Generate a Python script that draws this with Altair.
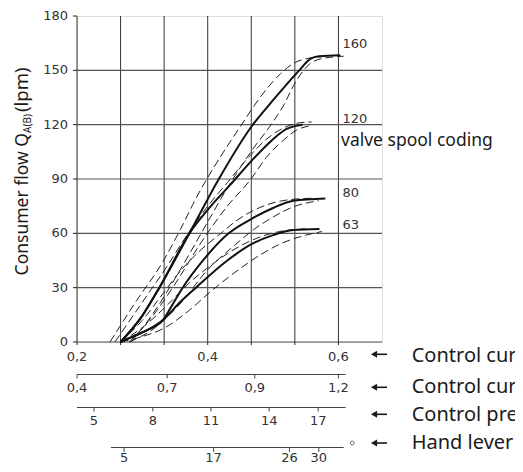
import altair as alt
import pandas as pd

# ---------------- data ----------------
SPOOL_CODES = ["160", "120", "80", "63"]
LABEL_LEVELS = [164.8, 123.3, 82.0, 64.6]

# solid characteristic curves: control current (A) vs consumer flow (lpm)
V_160 = [0.2667, 0.299, 0.326, 0.372, 0.417, 0.467, 0.500, 0.540, 0.557, 0.570, 0.603]
Q_160 = [0, 14, 30, 60, 90, 119, 133.5, 150, 156.3, 157.8, 158.3]
V_120 = [0.2667, 0.299, 0.326, 0.372, 0.400, 0.435, 0.467, 0.500, 0.520, 0.545]
Q_120 = [0, 14, 30, 60, 73, 87, 100, 112, 117.5, 120]
V_80 = [0.2667, 0.286, 0.3066, 0.332, 0.345, 0.360, 0.395, 0.432, 0.467, 0.500, 0.531, 0.580]
Q_80 = [0, 3.1, 6.4, 12.3, 20, 29, 46, 60, 68, 74, 78, 79.2]
V_63 = [0.2667, 0.286, 0.3066, 0.332, 0.355, 0.382, 0.430, 0.467, 0.500, 0.531, 0.571]
Q_63 = [0, 3.1, 6.4, 12.3, 21, 30, 45, 54, 59, 61.8, 62.4]

# dashed tolerance curves
V_160_HI = [0.2505, 0.2914, 0.330, 0.358, 0.383, 0.419, 0.450, 0.480, 0.511, 0.531, 0.552, 0.575]
Q_160_HI = [0, 23, 43.5, 62, 80, 102, 119, 135, 148, 153.8, 156.5, 157.5]
V_160_LO = [0.283, 0.315, 0.350, 0.390, 0.435, 0.470, 0.495, 0.515, 0.536, 0.557, 0.575, 0.608]
Q_160_LO = [0, 15, 35, 60, 88, 107, 119, 130, 144.5, 153.8, 156.5, 157.8]
V_120_HI = [0.258, 0.300, 0.340, 0.370, 0.400, 0.430, 0.460, 0.490, 0.515, 0.540, 0.559]
Q_120_HI = [0, 22, 43, 60, 75, 88, 101, 112, 118, 121, 121.5]
V_120_LO = [0.280, 0.315, 0.350, 0.390, 0.430, 0.465, 0.490, 0.516, 0.536, 0.560]
Q_120_LO = [0, 14, 32, 55, 75, 89.4, 102, 111.5, 117, 119.5]
V_80_HI = [0.2667, 0.300, 0.330, 0.360, 0.390, 0.420, 0.444, 0.490, 0.521, 0.562]
Q_80_HI = [0, 12, 26, 40, 51, 60, 67, 75.7, 78.4, 79.4]
V_80_LO = [0.280, 0.320, 0.360, 0.400, 0.440, 0.470, 0.500, 0.530, 0.570]
Q_80_LO = [0, 8, 22, 40, 53, 62, 69, 74.5, 78]
V_63_HI = [0.2667, 0.300, 0.340, 0.370, 0.400, 0.440, 0.480, 0.510, 0.550]
Q_63_HI = [0, 8, 21, 32, 41, 51, 58, 61, 62.5]
V_63_LO = [0.2667, 0.300, 0.335, 0.370, 0.405, 0.440, 0.480, 0.510, 0.545, 0.575]
Q_63_LO = [0, 3, 8, 17, 28, 38, 48, 54, 58.5, 61]

# main axes
X_GRID = [0.2, 0.26667, 0.33333, 0.4, 0.46667, 0.53333, 0.6]
X_LABEL_POS = [0.2, 0.4, 0.6]
X_LABELS = ["0,2", "0,4", "0,6"]
Y_TICKS = [0, 30, 60, 90, 120, 150, 180]
Y_LABELS = ["0", "30", "60", "90", "120", "150", "180"]
Y_GRID = [0, 30, 60, 90, 120, 150]
X_MIN, X_MAX = 0.2, 0.66667

# secondary scales (positions expressed on the control-current scale)
AX2_LABELS = ["0,4", "0,7", "0,9", "1,2"]
AX2_POS = [0.2, 0.338, 0.472, 0.6]
AX2_SPAN = [0.2, 0.611]
AX3_LABELS = ["5", "8", "11", "14", "17"]
AX3_POS = [0.226, 0.316, 0.405, 0.494, 0.569]
AX3_SPAN = [0.2, 0.611]
AX4_LABELS = ["5", "17", "26", "30"]
AX4_POS = [0.272, 0.409, 0.525, 0.570]
AX4_SPAN = [0.252, 0.608]

ROW_TEXTS = ["Control current 12V (A)", "Control current 24V (A)",
             "Control pressure (bar)", "Hand lever angle (°)"]

# ---------------- layout ----------------
W, H = 305, 326
TICK_FONT = "DejaVu Sans"
TEXT_FONT = "Noto Sans"
INK = "#1a1a1a"
LBL = "#333333"

xs = alt.Scale(domain=[X_MIN, X_MAX], nice=False, zero=False)
ys = alt.Scale(domain=[0, 180], nice=False, zero=False)


def X(f):
    return alt.X(f, scale=xs, axis=None)


def Y(f):
    return alt.Y(f, scale=ys, axis=None)


series = [
    ("160", "solid", V_160, Q_160), ("120", "solid", V_120, Q_120),
    ("80", "solid", V_80, Q_80), ("63", "solid", V_63, Q_63),
    ("160", "hi", V_160_HI, Q_160_HI), ("160", "lo", V_160_LO, Q_160_LO),
    ("120", "hi", V_120_HI, Q_120_HI), ("120", "lo", V_120_LO, Q_120_LO),
    ("80", "hi", V_80_HI, Q_80_HI), ("80", "lo", V_80_LO, Q_80_LO),
    ("63", "hi", V_63_HI, Q_63_HI), ("63", "lo", V_63_LO, Q_63_LO),
]
rows = []
for code, kind, vs, qs in series:
    for i, (v, q) in enumerate(zip(vs, qs)):
        rows.append({"series": f"{code}-{kind}", "kind": kind, "v": v, "q": q, "i": i})
df = pd.DataFrame(rows)

one = pd.DataFrame({"k": [0]})
layers = []

# grid
layers.append(alt.Chart(pd.DataFrame({"v": X_GRID})).mark_rule(color="#333", strokeWidth=1).encode(
    x=X("v:Q"), y=alt.YDatum(0, scale=ys, axis=None), y2=alt.Y2Datum(180)))
layers.append(alt.Chart(pd.DataFrame({"q": Y_GRID})).mark_rule(color="#555", strokeWidth=1.1).encode(
    y=Y("q:Q"), x=alt.XDatum(X_MIN, scale=xs, axis=None), x2=alt.X2Datum(X_MAX)))

# main axis ticks and labels (drawn as marks)
layers.append(alt.Chart(pd.DataFrame({"v": X_GRID})).mark_rule(color="#222", strokeWidth=1).encode(
    x=X("v:Q"), y=alt.value(H), y2=alt.value(H + 3)))
layers.append(alt.Chart(pd.DataFrame({"q": Y_TICKS})).mark_rule(color="#222", strokeWidth=1).encode(
    y=Y("q:Q"), x=alt.value(-4), x2=alt.value(0)))
layers.append(alt.Chart(pd.DataFrame({"v": X_LABEL_POS, "lab": X_LABELS})).mark_text(
    baseline="middle", dy=15, font=TICK_FONT, fontSize=13, color=LBL).encode(
    x=X("v:Q"), y=alt.YDatum(0, scale=ys, axis=None), text="lab:N"))
layers.append(alt.Chart(pd.DataFrame({"q": Y_TICKS, "lab": Y_LABELS})).mark_text(
    align="right", baseline="middle", dx=-9, font=TICK_FONT, fontSize=13, color=LBL).encode(
    y=Y("q:Q"), x=alt.XDatum(X_MIN, scale=xs, axis=None), text="lab:N"))

# curves
layers.append(alt.Chart(df[df.kind != "solid"]).mark_line(
    interpolate="monotone", strokeDash=[8, 4], strokeWidth=1, color="#222").encode(
    x=X("v:Q"), y=Y("q:Q"), detail="series:N", order="i:Q"))
layers.append(alt.Chart(df[df.kind == "solid"]).mark_line(
    interpolate="monotone", strokeWidth=2, color="#111").encode(
    x=X("v:Q"), y=Y("q:Q"), detail="series:N", order="i:Q"))

layers.append(alt.Chart(pd.DataFrame({"code": SPOOL_CODES, "lvl": LABEL_LEVELS})).mark_text(
    align="left", baseline="middle", dx=4, font=TICK_FONT, fontSize=13, color=LBL).encode(
    x=alt.XDatum(0.6, scale=xs, axis=None), y=Y("lvl:Q"), text="code:N"))

layers.append(alt.Chart(pd.DataFrame({"t": ["valve spool coding"]})).mark_text(
    align="left", baseline="alphabetic", font=TEXT_FONT, fontSize=17.5, color=INK).encode(
    x=alt.value(264), y=alt.value(130), text="t:N"))

# y axis title with subscript
for txt, xo, yo, size, al in [("Consumer flow Q", -49, 117, 17.5, "right"),
                              ("A(B)", -46, 117, 10, "left"),
                              ("(lpm)", -49, 96, 18.5, "left")]:
    layers.append(alt.Chart(pd.DataFrame({"t": [txt]})).mark_text(
        align=al, baseline="alphabetic", angle=270, font=TEXT_FONT, fontSize=size,
        color=INK).encode(x=alt.value(xo), y=alt.value(yo), text="t:N"))


# secondary scales
def sec_axis(labels, pos, span, line_y, tick_len, label_y):
    d = pd.DataFrame({"v": pos, "lab": labels})
    s = pd.DataFrame({"a": [span[0]], "b": [span[1]]})
    line = alt.Chart(s).mark_rule(color="#444", strokeWidth=1).encode(
        x=X("a:Q"), x2="b:Q", y=alt.value(line_y))
    ticks = alt.Chart(d).mark_rule(color="#444", strokeWidth=1).encode(
        x=X("v:Q"), y=alt.value(line_y), y2=alt.value(line_y + tick_len))
    labs = alt.Chart(d).mark_text(baseline="middle", font=TICK_FONT, fontSize=13,
                                  color=LBL).encode(
        x=X("v:Q"), y=alt.value(label_y), text="lab:N")
    return [line, ticks, labs]


layers += sec_axis(AX2_LABELS, AX2_POS, AX2_SPAN, 358.5, 4, 372)
layers += sec_axis(AX3_LABELS, AX3_POS, AX3_SPAN, 391.5, 4, 404.5)
layers += sec_axis(AX4_LABELS, AX4_POS, AX4_SPAN, 431.5, 4.5, 441.5)

# degree sign circle
layers.append(alt.Chart(one).mark_point(shape="circle", filled=False, size=14,
                                        color="#333", strokeWidth=1).encode(
    x=alt.value(275.3), y=alt.value(427)))

# arrows and row captions
ROW_ARROW_Y = [338.3, 371.3, 398.3, 427]
ROW_TEXT_Y = [345.5, 376.7, 404.7, 433]
for ay, ty, txt in zip(ROW_ARROW_Y, ROW_TEXT_Y, ROW_TEXTS):
    layers.append(alt.Chart(one).mark_rule(color=INK, strokeWidth=1.6).encode(
        x=alt.value(297), x2=alt.value(310), y=alt.value(ay)))
    layers.append(alt.Chart(one).mark_point(shape="triangle-left", filled=True, size=50,
                                            color=INK, opacity=1).encode(
        x=alt.value(297), y=alt.value(ay)))
    layers.append(alt.Chart(pd.DataFrame({"t": [txt]})).mark_text(
        align="left", baseline="alphabetic", font=TEXT_FONT, fontSize=20, color=INK).encode(
        x=alt.value(334.7), y=alt.value(ty), text="t:N"))

# the page is 523 x 472 with an 8px margin: keep the drawing within 507 x 456
chart = alt.layer(*layers).properties(
    width=W, height=H,
    autosize=alt.AutoSizeParams(type="none"),
    padding={"left": 69, "top": 8, "right": 133, "bottom": 122},
).configure_view(stroke=None).configure(background="white")

chart.save("out.html", embed_options={"renderer": "svg", "actions": False})
